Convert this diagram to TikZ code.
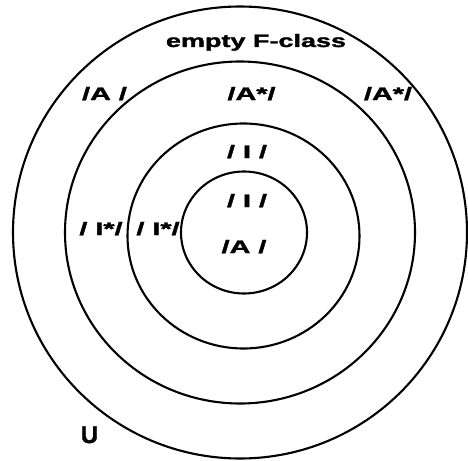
\documentclass[tikz,border=0pt]{standalone}
\usepackage{graphicx}
\usepackage{fontspec}
\setmainfont{Liberation Sans}
\newfontfamily\lblfont{Liberation Sans Bold}[FakeBold=1.5,WordSpace=1.5]
\newfontfamily\titlefont{Liberation Sans Bold}[FakeBold=1.5]
\newcommand{\wlabel}[1]{\scalebox{1.6}[1]{#1}}
\begin{document}
\begin{tikzpicture}[x=1pt,y=-1pt,line cap=round,line join=round,
    ring/.style={line width=2.1pt},
    lbl/.style={font=\fontsize{18}{18}\lblfont,inner sep=0pt,anchor=base}]
  \useasboundingbox (0,0) rectangle (468,460);
  % the four classes, outermost first
  \draw[ring] (240,232.5) ellipse (227 and 226);
  \draw[ring] (240,232.5) ellipse (175 and 171);
  \draw[ring] (243.5,236) ellipse (116 and 112.5);
  \draw[ring] (244,232.5) ellipse (63 and 61);
  % labels
  \node[lbl,font=\fontsize{18}{18}\titlefont] (empty) at (256,47) {\scalebox{1.5}[1]{empty F-class}};
  \node[lbl] (aleft) at (104.5,100) {\wlabel{/A /}};
  \node[lbl] (astarmid) at (251.5,100) {\wlabel{/A*/}};
  \node[lbl] (astarright) at (388,100) {\wlabel{/A*/}};
  \node[lbl] (itop) at (247,158) {\wlabel{/ I /}};
  \node[lbl] (imid) at (247,207) {\wlabel{/ I /}};
  \node[lbl] (ainner) at (244,253) {\wlabel{/A /}};
  \node[lbl] (istarleft) at (101,235) {\wlabel{/ I*/}};
  \node[lbl] (istarmid) at (158,235) {\wlabel{/ I*/}};
  \node[lbl,font=\fontsize{24}{24}\titlefont] (univ) at (89.5,443) {U};
\end{tikzpicture}
\end{document}
